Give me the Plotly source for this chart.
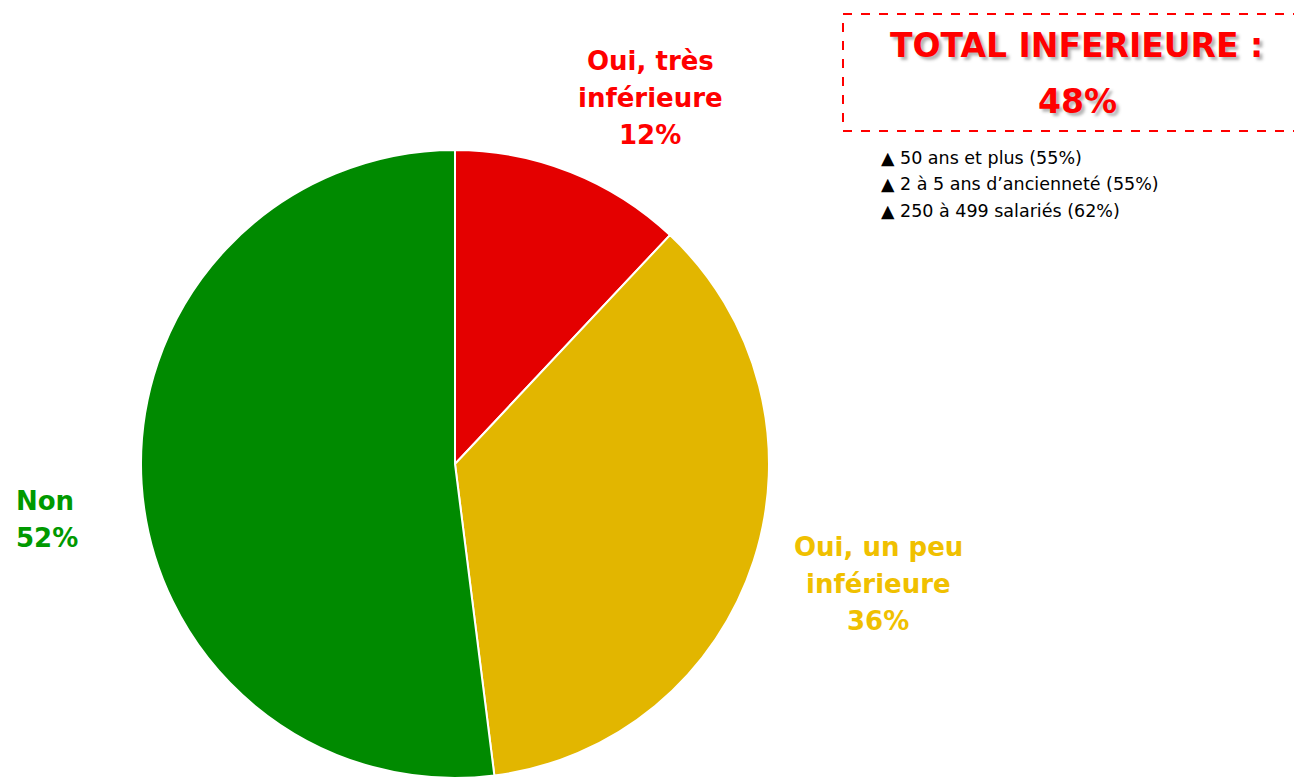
import plotly.graph_objects as go

categories = ["Oui, très inférieure", "Oui, un peu inférieure", "Non"]
values = [12, 36, 52]
label_lines = [["Oui, très", "inférieure"], ["Oui, un peu", "inférieure"], ["Non"]]
colors = ["#e40000", "#e2b600", "#008a00"]
text_colors = ["#ff0000", "#f0c000", "#009900"]
total_label = "TOTAL INFERIEURE :"
total_value = "48%"
bullets = ["50 ans et plus (55%)", "2 à 5 ans d’ancienneté (55%)", "250 à 499 salariés (62%)"]

W, H = 1294, 779

fig = go.Figure()
fig.add_trace(go.Pie(
    labels=categories,
    values=values,
    sort=False,
    direction="clockwise",
    rotation=0,
    marker=dict(colors=colors, line=dict(color="white", width=2)),
    textinfo="none",
    hoverinfo="label+percent",
    showlegend=False,
    domain=dict(x=[140 / W, 770 / W], y=[1 / H, 629 / H]),
))

def px(x):
    return x / W

def py(y):
    return 1 - y / H

# label positions (anchor x, first-line y, alignment)
label_pos = [(650, 61, "center"), (878, 547, "center"), (14, 501, "left")]
for i, (cx, cy, al) in enumerate(label_pos):
    lines = label_lines[i] + [f"{values[i]}%"]
    for j, line in enumerate(lines):
        fig.add_annotation(
            x=px(cx), y=py(cy + j * 37), xref="paper", yref="paper",
            text=f"<b>{line}</b>", showarrow=False,
            xanchor=al, yanchor="middle",
            font=dict(family="DejaVu Sans", size=26, color=text_colors[i]),
        )

# dashed box
fig.add_shape(type="rect", xref="paper", yref="paper",
              x0=px(843), x1=px(1320), y0=py(131), y1=py(14),
              line=dict(color="#ff0000", width=2, dash="dash"),
              fillcolor="rgba(0,0,0,0)")

for txt, ty, tx in [(total_label, 45, 1076), (total_value, 101, 1077)]:
    fig.add_annotation(x=px(tx), y=py(ty), xref="paper", yref="paper",
                       text=f"<b>{txt}</b>", showarrow=False,
                       xanchor="center", yanchor="middle",
                       font=dict(family="DejaVu Sans", size=33, color="#ff0000",
                                 shadow="3px 3px 3px rgba(90,90,90,0.45)"))

for k, b in enumerate(bullets):
    fig.add_annotation(x=px(879), y=py(158 + k * 26.5), xref="paper", yref="paper",
                       text=f"▲ {b}", showarrow=False, xanchor="left", yanchor="middle",
                       font=dict(family="DejaVu Sans", size=17.5, color="#000000"))

fig.update_layout(
    width=W, height=H,
    margin=dict(l=0, r=0, t=0, b=0),
    paper_bgcolor="white", plot_bgcolor="white",
)

fig.write_html("out.html", config={"displayModeBar": False},
               post_script="document.body.style.margin='0';")
